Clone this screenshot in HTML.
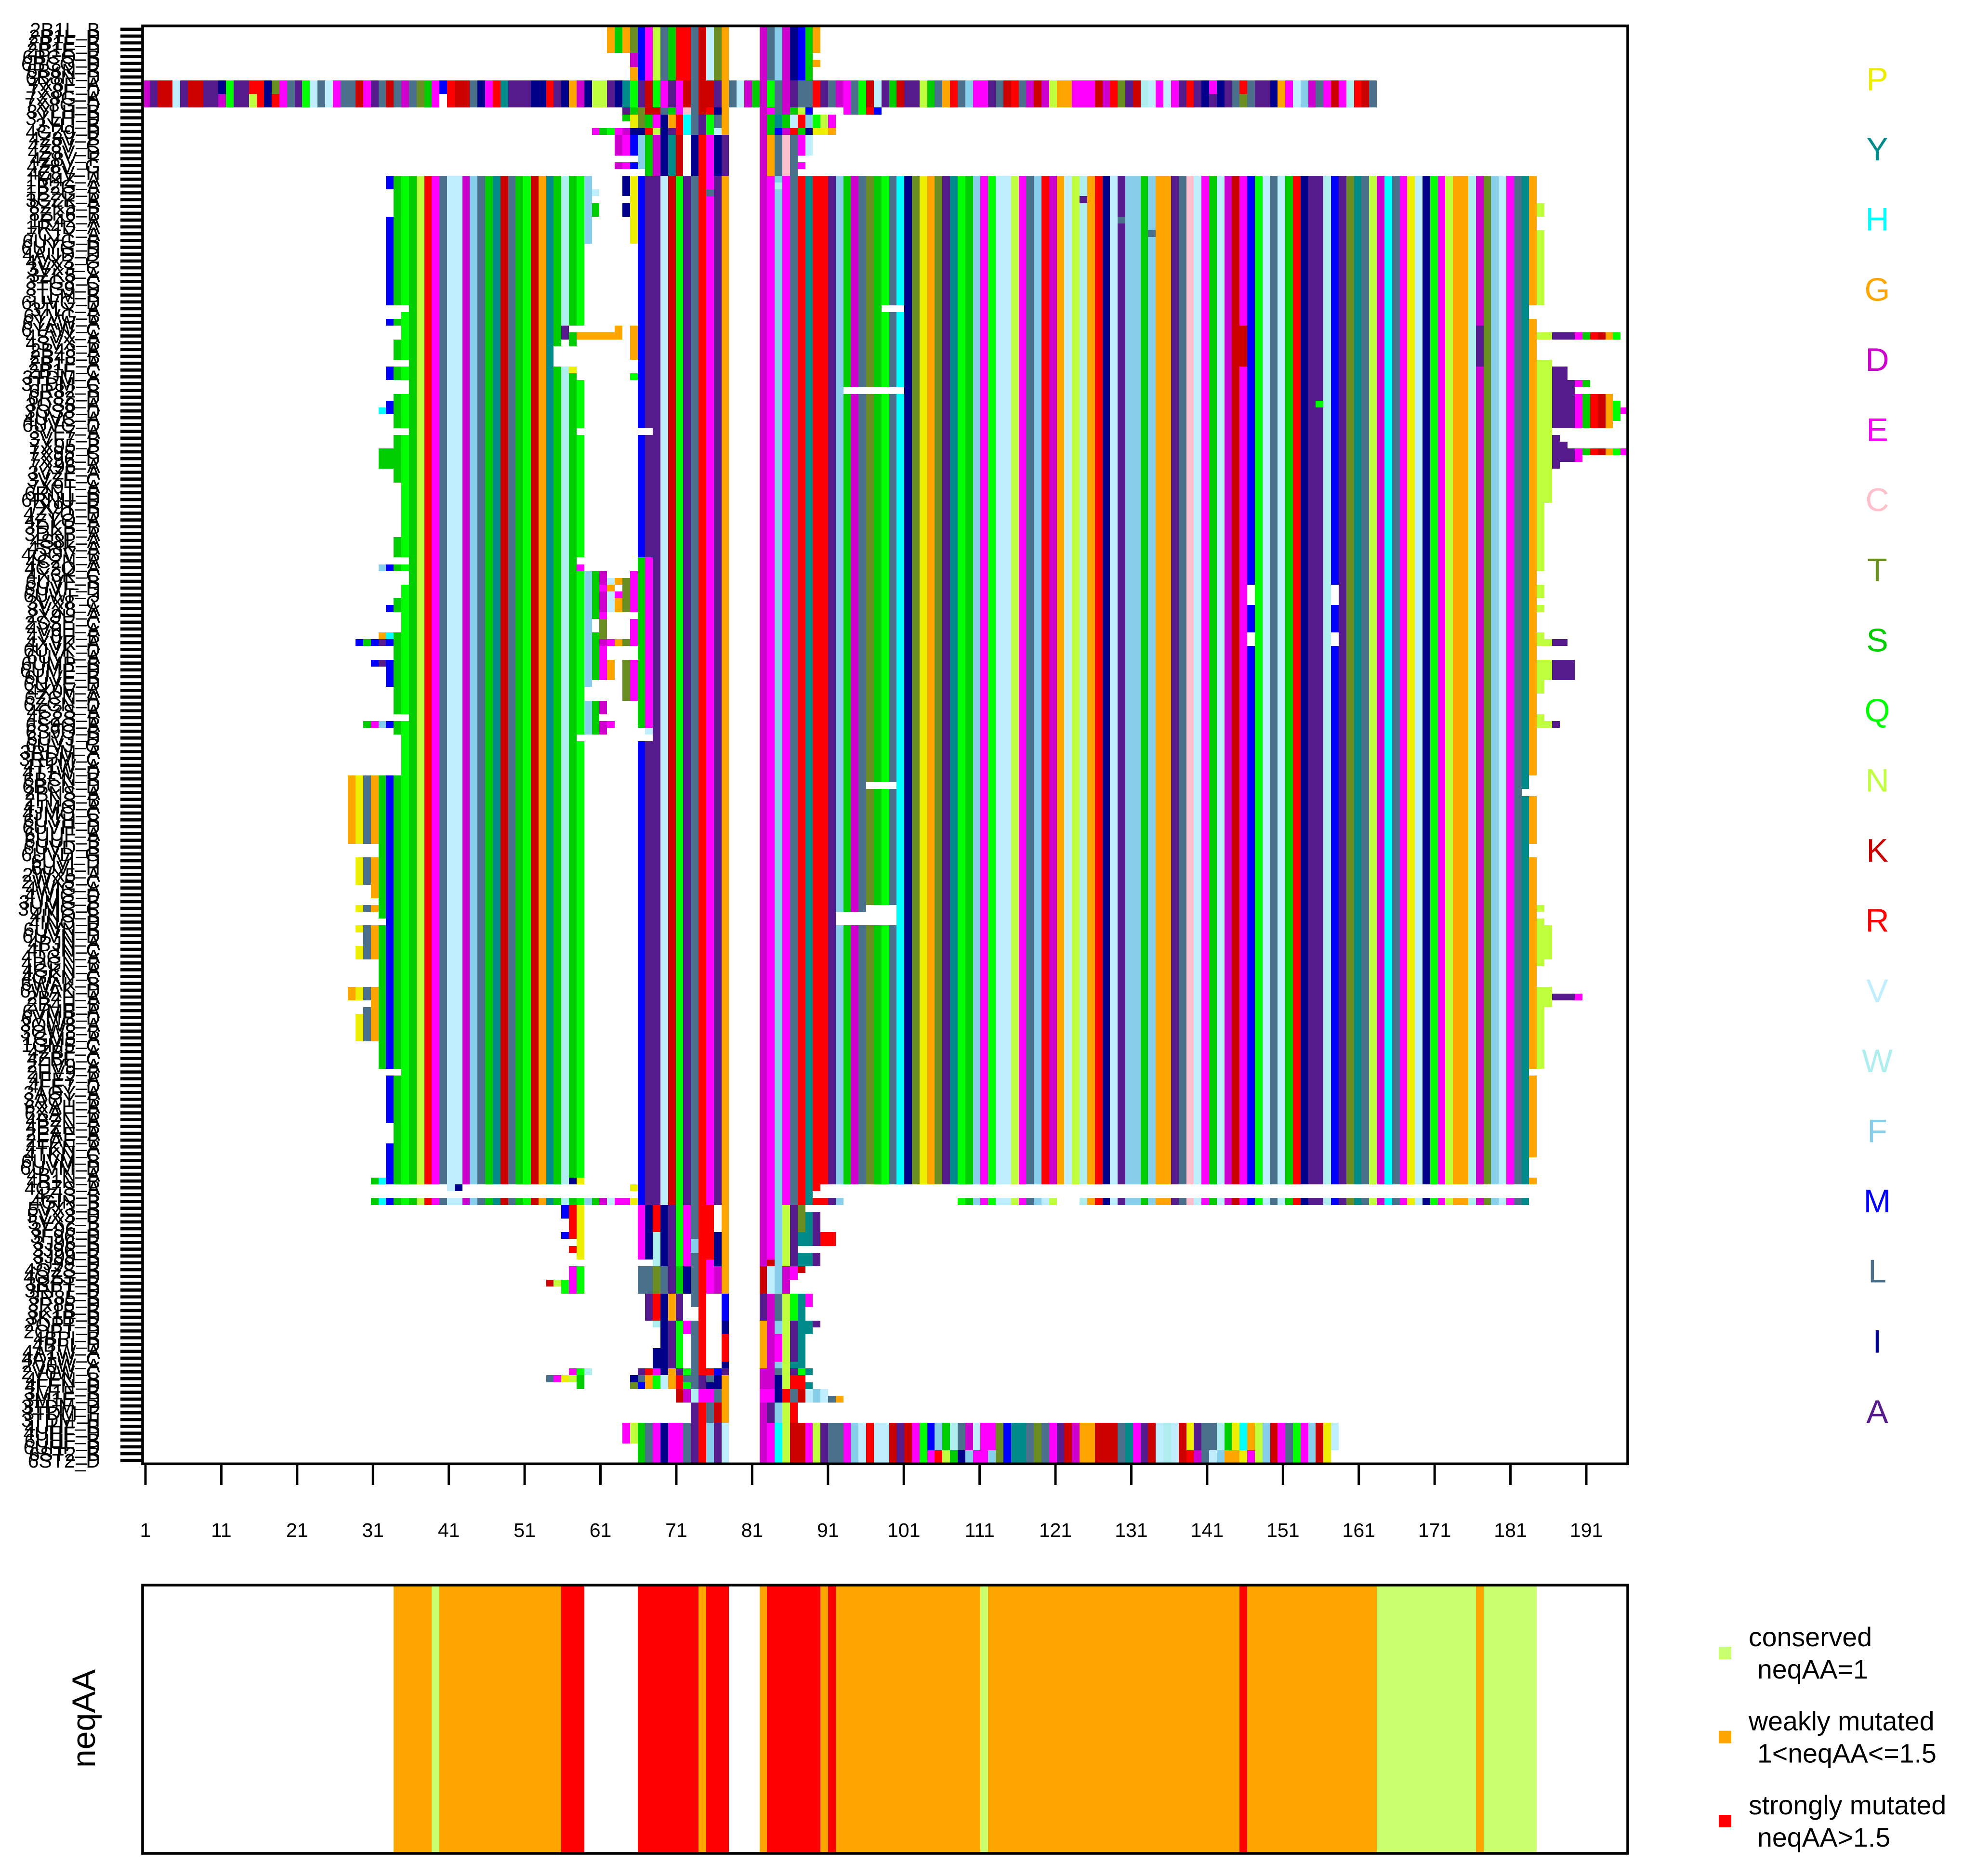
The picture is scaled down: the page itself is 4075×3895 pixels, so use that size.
<!DOCTYPE html>
<html lang="en">
<head>
<meta charset="utf-8">
<title>Sequence alignment and neqAA chart</title>
<style>
html,body{margin:0;padding:0;background:#fff}
svg{display:block}
text{font-family:"Liberation Sans",sans-serif}
</style>
</head>
<body>
<svg id="chart" xmlns="http://www.w3.org/2000/svg" width="4075" height="3895" viewBox="0 0 4075 3895">
<rect x="0" y="0" width="4075" height="3895" fill="#ffffff"/>
<g id="cells" shape-rendering="crispEdges"></g>
<g id="yaxis"></g>
<g id="xaxis"></g>
<rect x="296" y="53.7" width="3083" height="2985.6" fill="none" stroke="#000" stroke-width="5.6"/>
<g id="reslegend"></g>
<g id="bands" shape-rendering="crispEdges"></g>
<rect x="296" y="3291" width="3083" height="557" fill="none" stroke="#000" stroke-width="5.6"/>
<text transform="translate(197,3568) rotate(-90)" text-anchor="middle" font-size="68">neqAA</text>
<g id="neqlegend"></g>
</svg>
<script>
/* ---------- chart data ---------- */
const seqLabels = (
"2B1L_B 2B1L_D 2B1E_B 2B1E_D 6BCQ_B 6BCQ_D 6B8N_B 6B8N_D 7X8F_A 7X8F_D 7X8G_A 7X8G_D 3YLH_B 3YLH_D 3YLI_B 4GZ9_D 4Z8V_B 4Z8V_C 4Z8V_D 4Z8V_F 4Z8V_G 4Z8V_H " +
"1M4Z_A 1B2G_A 1B2G_B 3CZK_A 8ZK5_B 8ZK6_B 1R42_A 1R4D_A 7C1Y_A 6UYG_B " +
"6UYG_D 4AUD_D 4VX3_G 3VX3_C 3ZK5_A 3TG8_C 3TG9_D 3TLM_B 6UVG_D 3TLY_A " +
"6YVG_B 6YAW_A 6YAW_C 4SVX_A 4SVX_B 2B48_A 2B48_B 2B1F_A 2B1F_C 3TDM_A " +
"3TDM_C 6R82_B 6R82_D 3QS8_A 3QS8_D 4UVC_A 6UVC_D 3VF7_A 3VF7_B 7X95_B " +
"7X95_C 7X96_D 7X96_A 3VZF_A 3VZF_C 7X9T_A 6RNT_B 6RNU_D 7X9T_B 4ZYO_D " +
"4ZYO_A 3DKB_B 3DKB_A 4S8L_A 4S8K_A 4QOV_B 4C2N_A 4C2O_A 4X3K_C 6UVF_B " +
"6UVF_D 6UWF_J 3VX8_C 3VX8_A 2X9U_A 2SSE_C 4V0H_A 4V0H_B 4XVK_A 6UVK_D " +
"6UVL_A 6UMP_B 6UMP_D 6UVE_B 6UVE_D 4X0V_A 6ZCN_A 6ZCN_D 4C3S_A 4C2S_B " +
"6S9O_A 6S9O_B 6UVJ_D 6UVJ_G 3RDM_A 3RDM_C 4T1W_A 4T1W_D 6BCN_B 6BCN_D " +
"2PNS_A 2PNS_B 4JMO_A 4JMO_C 6UVH_B 6UVH_D 6UUF_A 6UUF_B 6UVD_B 6UVD_G " +
"6UVI_D 6UVI_H 2WX5_A 2WX5_C 4WIG_A 4WIG_D 3UMG_B 3UMG_C 4INO_B 4INO_D " +
"6UVN_B 6UVN_D 4PJN_A 4PJN_C 4DGN_A 4DGN_B 4GKN_A 4GKN_C 6WAK_B 6WAK_D " +
"2B4H_A 2B4H_B 6VMB_A 6VMB_D 3OW8_A 3OW8_B 1GM5_A 1GM5_C 4ZBF_A 4ZBF_C " +
"2HV9_A 2HV9_B 4FE7_A 4FE7_D 3AOY_A 3AOY_B 6XAH_A 6XAH_B 4BZN_A 4BZN_B " +
"2EAE_A 2EAE_B 4TKN_A 4TKN_C 6UVM_B 6UVM_D 4B1N_A 4B1N_B 4QZS_A 4ZIS_B " +
"4GIN_B 5VX3_B 5VX3_D 5VX2_B 3F96_B 3F96_D 3J96_B 3J96_D 3J99_B 3J99_D " +
"4QZS_B 4QZS_D 3RPT_B 3RPT_D 3R85_B 3R85_D 3K1B_B 3K1B_D 2OPT_B 2OPT_D " +
"4BPI_B 4BPI_D 4A1W_A 4A1W_C 2V0W_A 2V0W_C 4FEN_B 4FEN_D 3M1E_B 3M1E_D " +
"3TDM_D 3TDM_F 3TDM_H 4UHF_B 4UHF_D 6UHF_B 6UHF_D 6ST2_B 6ST2_D").split(" ");

const xTickLabels = [1,11,21,31,41,51,61,71,81,91,101,111,121,131,141,151,161,171,181,191];

const residueOrder = ["P","Y","H","G","D","E","C","T","S","Q","N","K","R","V","W","F","M","L","I","A"];
const residueColors = ["#EEEE00","#008B8B","#00FFFF","#FFA500","#CD00CD","#FF00FF","#FFC0CB","#6B8E23","#00CD00","#00FF00","#C0FF3E","#CD0000","#FF0000","#BFEFFF","#AEEEEE","#87CEEB","#0000FF","#4A708B","#00008B","#551A8B"];

/* blocks: [firstRow, lastRow, firstColumn, residues]  (rows 0-based, columns 1-based; space = keep, . = gap) */
const topBlocks = [
[0,3,62,"GSGT"],[4,5,65,"D"],[6,7,65,"G"],
[0,7,66,"MENLSRRLKVTG"],[0,7,82,"DLFDIMS"],[0,3,89,"G"],[5,5,89,"G"],
[8,11,1,"DAKKVAKKAAIQAARRITELAQVLVELLKEALKLDLTSEMRKKLIERYAAAIIRAIGDINNAIYQAKQEAEKLKKAGLVDSDQLDALLRALDELQKVASKAANSLGRLFEEALKRLDKDNGGEEEKDRTAKWVEVEARAIEIALRLAAIGEVFDLEKEWRKL"],
[10,11,11,"D"],[10,11,15,"N"],[10,11,18,"R"],[10,11,40,"."],[10,11,141,"A"],[10,11,145,"T"],
[12,12,64,"ASTKKLSECLKRIG"],[12,12,82,"DELDSNM"],[12,12,93,"ELQRM"],
[13,13,64,"S"],[13,14,65,"PTSEIGRHLAQLG"],[13,14,82,"DSYSVRFQNE"],
[15,15,60,"ESQEDIIRNIARHLAQVG"],[15,15,82,"DSMDRSIPPG"],
[16,18,63,"DEM"],[20,20,63,"DEM"],[16,20,66,"F"],[16,21,67,"SDIYK"],[16,21,73,"IREIA"],
[16,21,82,"DGLCL"],[16,18,87,"EV"],[20,20,87,"E"]
];

const coreBlocks = [
[22,169,36,"SNRELVVDFLSYKLSQKGYSWSQ"],
[22,169,66,"MAAVKQALREAG"],
[22,169,82,"DEFELRYRRAFSDLTSQLHITPGTAYQSFEQVVNELFRDGVNWGRIVAFFSFGGALCVESVDKEMQVLVSRIAAWMATYLNDHLEPVIQENGGWDTFVELY"]
];

const edgeBlocks = [
/* column 33 */
[22,23,33,"M"],[28,40,33,"M"],[43,43,33,"M"],[50,51,33,"M"],[55,56,33,"M"],[79,79,33,"M"],[85,85,33,"M"],[89,89,33,"H"],[90,90,33,"M"],[93,96,33,"M"],[102,102,33,"M"],[110,152,33,"M"],[154,160,33,"M"],[164,169,33,"M"],
/* column 34 */
[22,40,34,"S"],[43,43,34,"S"],[46,48,34,"S"],[50,51,34,"S"],[54,58,34,"S"],[60,66,34,"S"],[75,77,34,"S"],[79,79,34,"S"],[84,85,34,"S"],[89,100,34,"S"],[102,103,34,"S"],[110,152,34,"S"],[154,169,34,"S"],
/* column 35 */
[22,40,35,"Q"],[42,48,35,"Q"],[50,51,35,"Q"],[54,58,35,"Q"],[60,77,35,"Q"],[79,79,35,"Q"],[82,100,35,"Q"],[102,169,35,"Q"],
/* far-left stubs */
[56,56,32,"H"],[62,64,32,"S"],[62,64,33,"S"],[79,79,32,"F"],[89,89,32,"G"],[90,90,29,"MSMA"],[93,93,31,"MA"],[102,102,30,"SEF"],
[110,119,28,"GPLG"],[122,125,29,"PL"],[122,127,31,"G"],[129,129,29,"PLG"],[132,132,29,"P"],[132,136,30,"LG"],[135,136,29,"P"],
[141,142,28,"GPL"],[141,148,31,"G"],[144,144,30,"L"],[145,148,29,"PL"],
[110,130,32,"S"],[132,152,32,"S"],
[169,169,31,"SH"],
/* gaps and substitutions at the N side */
[47,49,55,"."],[44,45,56,"A"],[46,49,56,"."],[44,44,57,"."],[47,49,57,"."],[50,50,57,"P"],
[44,44,58,"."],[45,45,58,"GGGGGG"],[44,44,63,"G"],[46,51,58,"."],[59,59,58,"."],[78,78,58,"."],[79,79,58,"E"],[104,104,58,"."],
[169,169,57,"IP"],
/* columns 59-65 */
[22,31,59,"F"],[80,96,59,"F"],[99,103,59,"F"],
[24,24,60,"V"],[26,27,60,"S"],[80,86,60,"S"],[89,95,60,"S"],[99,103,60,"S"],
[80,81,61,"D"],[82,82,61,"E"],[83,85,61,"D"],[86,86,61,"E"],[87,89,61,"T"],[90,90,61,"D"],[91,95,61,"E"],[99,100,61,"D"],[102,103,61,"D"],
[81,81,62,"V"],[82,82,62,"G"],[83,85,62,"V"],[90,90,62,"E"],[93,95,62,"G"],[102,102,62,"E"],
[81,81,63,"G"],[83,83,63,"E"],[84,85,63,"G"],[90,90,63,"G"],
[22,24,64,"I"],[26,27,64,"I"],[81,85,64,"T"],[90,90,64,"T"],[93,98,64,"T"],
[22,31,65,"P"],[44,48,65,"G"],[51,51,65,"Q"],[80,85,65,"E"],[87,90,65,"E"],[93,98,65,"E"],
/* columns 66-67 */
[59,59,66,".."],[78,102,66,"SE"],[103,103,66,".V"],[104,104,66,".."],
/* point mutations */
[23,23,84,"W"],[24,24,75,"L"],[25,25,124,"A"],[28,28,129,"L"],[30,30,133,"L"],[44,49,145,"K"],[44,49,176,"A"],[55,55,155,"Q"],
/* gaps inside the block */
[41,41,98,"..."],[53,53,93,"........"],[111,111,96,"...."],[129,129,96,"...."],[130,131,92,"........"],
[82,84,146,"."],[89,90,146,"."],[82,84,157,"."],[89,90,157,"."],[112,112,182,"."],
/* column 183 */
[22,40,183,"G"],[43,109,183,"G"],[113,119,183,"G"],[122,152,183,"G"],[154,165,183,"G"],[169,169,183,"G"]
];

const tailBlocks = [
[26,27,184,"N"],[30,40,184,"N"],[45,45,184,"NNAAAESRKGQ"],[49,69,184,"NN"],
[50,51,186,"AA"],[52,52,186,"AAAES"],[53,53,186,"AAA"],[54,58,186,"AAAESRKG"],[55,57,194,"Q"],[56,56,195,"E"],
[60,64,186,"A"],[61,63,187,"A"],[62,63,188,"AE"],[62,62,190,"SRKGQE"],
[70,79,184,"N"],[82,83,184,"N"],[85,85,184,"N"],[89,90,184,"N"],[90,90,185,"NAA"],
[93,95,184,"NNAAA"],[96,97,184,"N"],[101,102,184,"N"],[102,102,185,"NA"],
[129,129,184,"N"],[131,137,184,"N"],[132,136,185,"N"],[141,152,184,"N"],[141,143,185,"N"],[142,142,186,"AAAE"]
];

const lowerBlocks = [
[170,170,41,"VI"],[170,170,65,"P"],[170,171,66,"MAAVKQALREAG"],[170,171,82,"DEFELRY"],[170,170,89,"R"],
[172,172,31,"SHMSQSNRELVVDFLSYKLSQKGYSWSQFSDVEEPMAAVKQALREAG"],[172,172,82,"DEFELRYRRAF"],[172,172,108,"QSFEQVVNELFVN"],
[172,172,124,"WGRIVAFFSFGGALCVESVDKEMQVLVSRIAAWMATYLNDHLEPVIQENGGWDTFVELY"],
[173,174,56,"M"],[173,177,57,"R"],[177,177,56,"M"],[179,179,57,"R"],[173,180,58,"P"],[173,180,66,"EI"],[173,176,68,"R"],[177,181,68,"W"],
[173,181,69,"IAQE"],[173,177,73,"L"],[178,179,73,"F"],[180,181,73,"L"],[173,181,74,"R"],[173,180,75,"R"],[181,181,75,"E"],[177,181,76,"I"],[173,181,77,"G"],
[173,181,82,"D"],[173,180,83,"E"],[181,181,83,"K"],[173,181,84,"FNA"],[173,176,87,"T"],[174,176,88,"Y"],[177,178,87,"YY"],[180,181,87,"YY"],[174,178,89,"A"],[180,181,89,"A"],[177,178,90,"RR"],
[182,185,57,"EQ"],[184,185,56,"Q"],[184,184,54,"KN"],[182,185,66,"LLTLASILREDG"],[182,185,82,"KVFD"],[182,183,86,"E"],[182,182,87,"K"],
[186,189,67,"ARIGA"],[186,187,73,"L"],[186,189,74,"R"],[186,189,77,"M"],[186,189,82,"ADLNQY"],[186,187,88,"E"],
[190,190,68,"W"],[190,196,69,"IAQ"],[190,191,72,"E"],[190,196,73,"LR"],[190,191,77,"I"],[192,195,77,"R"],[196,196,77,"I"],[194,196,68,"I"],
[190,196,82,"GD"],[190,191,84,"F"],[192,195,84,"E"],[196,196,84,"F"],[190,196,85,"N"],[190,195,86,"A"],[190,195,87,"Y"],[190,191,88,"Y"],[190,190,89,"A"],[196,196,86,"YY"],
[197,197,57,"EQW"],[197,197,66,"AREIGAQLRRMA"],[197,199,82,"DD"],[197,197,84,"L"],[198,201,84,"I"],[197,199,85,"N"],[197,197,86,"AQY"],[198,199,86,"RR"],[199,199,88,"Y"],
[198,198,54,"LEPNS"],[199,199,58,"S"],[198,198,65,"ILGQVGRLLALIG"],[199,199,65,"TMGQVGRQLAIIG"],
[200,201,71,"KDWEELG"],[200,201,82,"EE"],[200,201,85,"RLKVFV"],[201,201,91,"LG"],
[202,204,73,"ARLKG"],[202,204,82,"DAFNR"],
[205,207,64,"EN"],[205,210,66,"SLEIEELARFAV"],[205,210,82,"DEHNKKENALLEFVRVVKAKEQ"],
[205,208,104,"MFSWLDVEETMYYLTLEAKDGGKKKLYEAKVWVKPALLWSPHGNFKELQEFKPV"],
[209,210,104,"ERNSIFEEFTMYYLTLEAKDGGKKKLYEAKVWVKRDLVFGGPENFKELQEFKP"]
];

/* neqAA bands: [firstColumn, lastColumn, neqAA estimate] */
const neqBands = [
[34,38,1.3],[39,39,1],[40,55,1.3],[56,58,1.8],[66,73,1.9],[74,74,1.4],[75,77,1.8],[82,82,1.4],[83,89,1.9],[90,90,1.4],[91,91,1.7],
[92,110,1.2],[111,111,1],[112,144,1.2],[145,145,1.6],[146,162,1.2],[163,175,1],[176,176,1.1],[177,183,1]
];

const neqLegendColors = ["#CAFF70","#FFA500","#FF0000"];
const neqLegendLines = [["conserved","neqAA=1"],["weakly mutated","1<neqAA<=1.5"],["strongly mutated","neqAA>1.5"]];

/* ---------- scales ---------- */
const NS = "http://www.w3.org/2000/svg";
const rowCount = seqLabels.length;
const colCount = 195;
const plotLeft = 295.2, plotTop = 53.7, colWidth = 15.82, rowHeight = 2985.6 / 211;
function xLeft(col){ return plotLeft + (col - 1) * colWidth; }
function yTop(row){ return plotTop + row * rowHeight; }
function xTick(v){ return 302 + (v - 1) * (2991 / 190); }
function colorOf(res){ return residueColors[residueOrder.indexOf(res)]; }
function neqColor(v){ return v <= 1 ? neqLegendColors[0] : (v <= 1.5 ? neqLegendColors[1] : neqLegendColors[2]); }

/* ---------- alignment cells ---------- */
const grid = [];
for (let r = 0; r < rowCount; r++) { grid.push(new Array(colCount + 1).fill("")); }
[topBlocks, coreBlocks, edgeBlocks, tailBlocks, lowerBlocks].forEach(function(blocks){
  blocks.forEach(function(b){
    for (let r = b[0]; r <= b[1]; r++) {
      for (let i = 0; i < b[3].length; i++) {
        const ch = b[3][i];
        if (ch === " ") continue;
        const c = b[2] + i;
        if (c > colCount) continue;
        grid[r][c] = ch === "." ? "" : ch;
      }
    }
  });
});
const cellsGroup = document.getElementById("cells");
for (let c = 1; c <= colCount; c++) {
  let r = 0;
  while (r < rowCount) {
    const res = grid[r][c];
    let end = r + 1;
    while (end < rowCount && grid[end][c] === res) end++;
    if (res) {
      const rect = document.createElementNS(NS, "rect");
      const x0 = Math.round(xLeft(c)), x1 = Math.round(xLeft(c + 1));
      const y0 = Math.round(yTop(r)), y1 = Math.round(yTop(end));
      rect.setAttribute("x", x0);
      rect.setAttribute("y", y0);
      rect.setAttribute("width", x1 - x0);
      rect.setAttribute("height", y1 - y0);
      rect.setAttribute("fill", colorOf(res));
      
      
      cellsGroup.appendChild(rect);
    }
    r = end;
  }
}

/* ---------- sequence axis ---------- */
const yAxisGroup = document.getElementById("yaxis");
seqLabels.forEach(function(label, r){
  const yc = yTop(r) + rowHeight / 2;
  const tick = document.createElementNS(NS, "line");
  tick.setAttribute("x1", 250);
  tick.setAttribute("x2", 296);
  tick.setAttribute("y1", yc);
  tick.setAttribute("y2", yc);
  tick.setAttribute("stroke", "#000");
  tick.setAttribute("stroke-width", 6.6);
  
  
  yAxisGroup.appendChild(tick);
  const t = document.createElementNS(NS, "text");
  t.setAttribute("x", 208);
  t.setAttribute("y", yc + 15);
  t.setAttribute("text-anchor", "end");
  t.setAttribute("font-size", 41);
  t.textContent = label;
  
  
  yAxisGroup.appendChild(t);
});

/* ---------- residue axis ---------- */
const xAxisGroup = document.getElementById("xaxis");
xTickLabels.forEach(function(v){
  const x = xTick(v);
  const tick = document.createElementNS(NS, "line");
  tick.setAttribute("x1", x);
  tick.setAttribute("x2", x);
  tick.setAttribute("y1", 3039);
  tick.setAttribute("y2", 3083);
  tick.setAttribute("stroke", "#000");
  tick.setAttribute("stroke-width", 5);
  
  
  xAxisGroup.appendChild(tick);
  const t = document.createElementNS(NS, "text");
  t.setAttribute("x", x);
  t.setAttribute("y", 3191);
  t.setAttribute("text-anchor", "middle");
  t.setAttribute("font-size", 41);
  t.textContent = String(v);
  
  
  xAxisGroup.appendChild(t);
});

/* ---------- residue colour key ---------- */
const resLegendGroup = document.getElementById("reslegend");
residueOrder.forEach(function(res, i){
  const t = document.createElementNS(NS, "text");
  t.setAttribute("x", 3897);
  t.setAttribute("y", 166 + i * 145.6 + 21.5);
  t.setAttribute("text-anchor", "middle");
  t.setAttribute("font-size", 68);
  t.setAttribute("fill", residueColors[i]);
  t.textContent = res;
  
  
  resLegendGroup.appendChild(t);
});

/* ---------- neqAA bands ---------- */
const bandsGroup = document.getElementById("bands");
neqBands.forEach(function(b){
  const rect = document.createElementNS(NS, "rect");
  const x0 = Math.round(xLeft(b[0])), x1 = Math.round(xLeft(b[1] + 1));
  rect.setAttribute("x", x0);
  rect.setAttribute("y", 3291);
  rect.setAttribute("width", x1 - x0);
  rect.setAttribute("height", 557);
  rect.setAttribute("fill", neqColor(b[2]));
  
  
  bandsGroup.appendChild(rect);
});

/* ---------- neqAA legend ---------- */
const neqLegendGroup = document.getElementById("neqlegend");
neqLegendLines.forEach(function(lines, i){
  const base = 3418 + i * 174.5;
  const sq = document.createElementNS(NS, "rect");
  sq.setAttribute("x", 3568);
  sq.setAttribute("y", base + 1);
  sq.setAttribute("width", 26);
  sq.setAttribute("height", 26);
  sq.setAttribute("fill", neqLegendColors[i]);
  
  
  neqLegendGroup.appendChild(sq);
  const t1 = document.createElementNS(NS, "text");
  t1.setAttribute("x", 3630);
  t1.setAttribute("y", base);
  t1.setAttribute("font-size", 55.5);
  t1.textContent = lines[0];
  
  
  neqLegendGroup.appendChild(t1);
  const t2 = document.createElementNS(NS, "text");
  t2.setAttribute("x", 3648);
  t2.setAttribute("y", base + 67);
  t2.setAttribute("font-size", 55.5);
  t2.textContent = lines[1];
  
  
  neqLegendGroup.appendChild(t2);
});
</script>
</body>
</html>
